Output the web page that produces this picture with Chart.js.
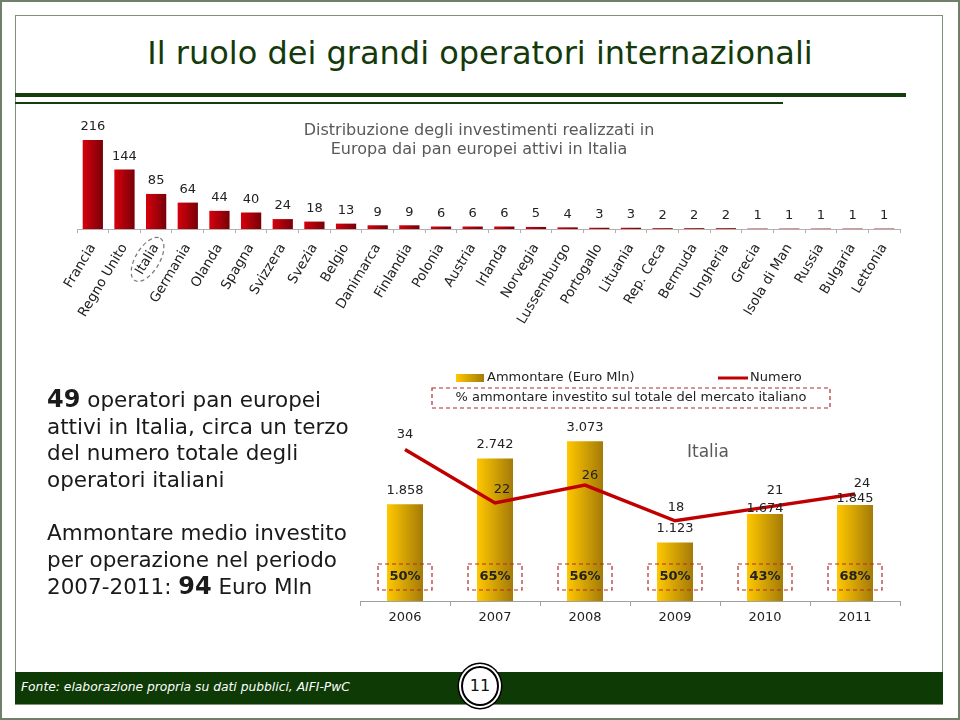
<!DOCTYPE html>
<html>
<head>
<meta charset="utf-8">
<script src="https://cdn.jsdelivr.net/npm/chart.js"></script>
<style>
html, body { margin: 0; padding: 0; background: #fff; }
#slide { position: relative; width: 960px; height: 720px; overflow: hidden; font-family: "DejaVu Sans", Verdana, sans-serif; color: #1a1a1a; }
.border { position: absolute; left: 0; top: 0; width: 960px; height: 720px; box-sizing: border-box; border: 2px solid #6f7f6a; }
.frame { position: absolute; left: 15px; top: 15px; width: 928px; height: 690px; box-sizing: border-box; border: 1px solid #7f8f7a; }
.title { position: absolute; left: 0; top: 34px; width: 960px; text-align: center; font: 32px "DejaVu Sans", sans-serif; color: #143a0c; }
.rule1 { position: absolute; left: 15px; top: 93px; width: 891px; height: 4px; background: #173c10; }
.rule2 { position: absolute; left: 15px; top: 102px; width: 768px; height: 2px; background: #173c10; }
canvas { position: absolute; left: 0; }
#top { top: 110px; }
#bottom { top: 360px; }
.note { position: absolute; left: 47px; font-size: 21.5px; line-height: 26.5px; white-space: nowrap; }
.note b { font-size: 24px; }
.footer { position: absolute; left: 15px; top: 672px; width: 928px; height: 32px; background: #0d3a05; }
.footer span { position: absolute; left: 6px; top: 8px; color: #fff; font: italic 12.3px "DejaVu Sans", sans-serif; }
.pagenum { position: absolute; left: 461px; top: 666px; width: 34px; height: 36px; border-radius: 50%; background: #fff; border: 2px solid #000; box-shadow: 0 0 0 2px #fff, 0 0 0 3.5px #000; text-align: center; font: 16px "DejaVu Sans", sans-serif; line-height: 36px; color: #111; }
</style>
</head>
<body>
<div id="slide">
  <div class="border"></div>
  <div class="frame"></div>
  <div class="title">Il ruolo dei grandi operatori internazionali</div>
  <div class="rule1"></div>
  <div class="rule2"></div>
  <canvas id="top" width="960" height="240"></canvas>
  <canvas id="bottom" width="960" height="290"></canvas>
  <div class="note" style="top:386px"><b>49</b> operatori pan europei<br>attivi in Italia, circa un terzo<br>del numero totale degli<br>operatori italiani</div>
  <div class="note" style="top:520px">Ammontare medio investito<br>per operazione nel periodo<br>2007-2011: <b>94</b> Euro Mln</div>
  <div class="footer"><span>Fonte: elaborazione propria su dati pubblici, AIFI-PwC</span></div>
  <div class="pagenum">11</div>
</div>
<script>
// operatori pan europei attivi in Italia, per paese
const paesi = ['Francia', 'Regno Unito', 'Italia', 'Germania', 'Olanda', 'Spagna', 'Svizzera', 'Svezia', 'Belgio',
    'Danimarca', 'Finlandia', 'Polonia', 'Austria', 'Irlanda', 'Norvegia', 'Lussemburgo', 'Portogallo', 'Lituania',
    'Rep. Ceca', 'Bermuda', 'Ungheria', 'Grecia', 'Isola di Man', 'Russia', 'Bulgaria', 'Lettonia'];
const operatori = [216, 144, 85, 64, 44, 40, 24, 18, 13, 9, 9, 6, 6, 6, 5, 4, 3, 3, 2, 2, 2, 1, 1, 1, 1, 1];

// serie annuali Italia
const anni = ['2006', '2007', '2008', '2009', '2010', '2011'];
const ammontare = [1858, 2742, 3073, 1123, 1674, 1845];
const numero = [34, 22, 26, 18, 21, 24];
const quota = [50, 65, 56, 50, 43, 68];

// piccoli spostamenti delle etichette (solo stile)
const liftAmmontare = [14, 14, 14, 14, 5, 6];
const dxNumero = [0, 7, 5, 1, 10, 7];
const liftNumero = [15, 13, 9, 13, 17, 10];

const FONT = '"DejaVu Sans", Verdana, sans-serif';
const ROT = 59;
const fmt = v => String(v).replace(/\B(?=(\d{3})+(?!\d))/g, '.');

function barFill(c, from, to, pct) {
    const chart = c.chart;
    const xs = chart.scales && chart.scales.x;
    if (!xs || !chart.chartArea) return from;
    const cx = xs.getPixelForValue(c.dataIndex);
    const half = (xs.width / xs.ticks.length) * pct / 2;
    const g = chart.ctx.createLinearGradient(cx - half, 0, cx + half, 0);
    g.addColorStop(0, from);
    g.addColorStop(1, to);
    return g;
}

const topLabels = {
    id: 'topLabels',
    afterDatasetsDraw(chart) {
        const ctx = chart.ctx;
        ctx.save();
        ctx.textAlign = 'center';
        ctx.textBaseline = 'middle';
        ctx.fillStyle = '#222';
        ctx.font = '13px ' + FONT;
        chart.getDatasetMeta(0).data.forEach((bar, i) => {
            ctx.fillText(operatori[i], bar.x, bar.y - 13);
        });
        ctx.fillStyle = '#595959';
        ctx.font = '16px ' + FONT;
        ctx.fillText('Distribuzione degli investimenti realizzati in', 479, 21);
        ctx.fillText('Europa dai pan europei attivi in Italia', 479, 40);

        // ellisse tratteggiata attorno a "Italia"
        const xs = chart.scales.x;
        const idx = paesi.indexOf('Italia');
        const rot = -ROT * Math.PI / 180;
        ctx.font = '13.5px ' + FONT;
        const w = ctx.measureText('Italia').width;
        const lh = 13.5 * 1.2;
        const ax = xs.getPixelForTick(idx) + lh / 2 * Math.sin(rot);
        const ay = xs.top + 4 + 8;
        ctx.translate(ax, ay);
        ctx.rotate(rot);
        ctx.beginPath();
        ctx.ellipse(-w / 2, lh / 2, w / 2 + 8, 12, 0, 0, Math.PI * 2);
        ctx.setLineDash([4, 3]);
        ctx.strokeStyle = '#777';
        ctx.lineWidth = 1.2;
        ctx.stroke();
        ctx.restore();
    }
};

new Chart(document.getElementById('top'), {
    type: 'bar',
    data: {
        labels: paesi,
        datasets: [{
            data: operatori,
            barPercentage: 0.64,
            categoryPercentage: 1,
            backgroundColor: c => barFill(c, '#d6000c', '#780008', 0.64)
        }]
    },
    options: {
        responsive: false,
        animation: false,
        layout: { padding: { left: 77, right: 60, top: 20, bottom: 0 } },
        plugins: { legend: { display: false }, tooltip: { enabled: false } },
        scales: {
            x: {
                afterFit: s => { s.height = 121; },
                border: { color: '#b0b0b0' },
                grid: { display: true, drawOnChartArea: false, offset: true, tickLength: 4, color: '#b0b0b0' },
                ticks: { autoSkip: false, minRotation: ROT, maxRotation: ROT, padding: 8, color: '#222', font: { family: FONT, size: 13.5 } }
            },
            y: { display: false, min: 0, max: 240 }
        }
    },
    plugins: [topLabels]
});

const bottomLabels = {
    id: 'bottomLabels',
    afterDatasetsDraw(chart) {
        const ctx = chart.ctx;
        const bars = chart.getDatasetMeta(0).data;
        const pts = chart.getDatasetMeta(1).data;
        ctx.save();
        ctx.textBaseline = 'middle';
        ctx.textAlign = 'center';
        ctx.fillStyle = '#222';
        ctx.font = '13px ' + FONT;
        bars.forEach((b, i) => ctx.fillText(fmt(ammontare[i]), b.x, b.y - liftAmmontare[i]));
        pts.forEach((p, i) => ctx.fillText(numero[i], p.x + dxNumero[i], p.y - liftNumero[i]));

        // riquadri percentuali
        ctx.setLineDash([4, 3]);
        ctx.strokeStyle = '#b02a2a';
        ctx.lineWidth = 1.2;
        ctx.font = 'bold 13px ' + FONT;
        bars.forEach((b, i) => {
            ctx.strokeRect(b.x - 27, 204, 54, 26);
            ctx.fillText(quota[i] + '%', b.x, 217);
        });

        // legenda
        ctx.strokeRect(432, 28, 398, 20);
        ctx.setLineDash([]);
        ctx.font = '13px ' + FONT;
        ctx.fillText('% ammontare investito sul totale del mercato italiano', 631, 38);
        const g = ctx.createLinearGradient(456, 0, 484, 0);
        g.addColorStop(0, '#ffc800');
        g.addColorStop(1, '#a47a08');
        ctx.fillStyle = g;
        ctx.fillRect(456, 14, 28, 8);
        ctx.fillStyle = '#222';
        ctx.textAlign = 'left';
        ctx.fillText('Ammontare (Euro Mln)', 487, 18);
        ctx.fillText('Numero', 750, 18);
        ctx.strokeStyle = '#c00000';
        ctx.lineWidth = 3;
        ctx.beginPath();
        ctx.moveTo(718, 18);
        ctx.lineTo(748, 18);
        ctx.stroke();

        ctx.textAlign = 'center';
        ctx.fillStyle = '#595959';
        ctx.font = '17px ' + FONT;
        ctx.fillText('Italia', 708, 93);
        ctx.restore();
    }
};

new Chart(document.getElementById('bottom'), {
    data: {
        labels: anni,
        datasets: [{
            type: 'bar',
            label: 'Ammontare (Euro Mln)',
            data: ammontare,
            yAxisID: 'y',
            order: 1,
            barPercentage: 0.4,
            categoryPercentage: 1,
            backgroundColor: c => barFill(c, '#ffc800', '#a47a08', 0.4)
        }, {
            type: 'line',
            label: 'Numero',
            data: numero,
            yAxisID: 'y1',
            order: 0,
            borderColor: '#c00000',
            borderWidth: 3.5,
            pointRadius: 0,
            tension: 0
        }]
    },
    options: {
        responsive: false,
        animation: false,
        layout: { padding: { left: 360, right: 60, top: 60, bottom: 0 } },
        plugins: { legend: { display: false }, tooltip: { enabled: false } },
        scales: {
            x: {
                afterFit: s => { s.height = 49; },
                border: { color: '#a0a0a0' },
                grid: { display: true, drawOnChartArea: false, offset: true, tickLength: 5, color: '#a0a0a0' },
                ticks: { padding: 4, color: '#222', font: { family: FONT, size: 13 } }
            },
            y: { display: false, min: 0, max: 3480 },
            y1: { display: false, min: 0, max: 40.6 }
        }
    },
    plugins: [bottomLabels]
});
</script>
</body>
</html>
